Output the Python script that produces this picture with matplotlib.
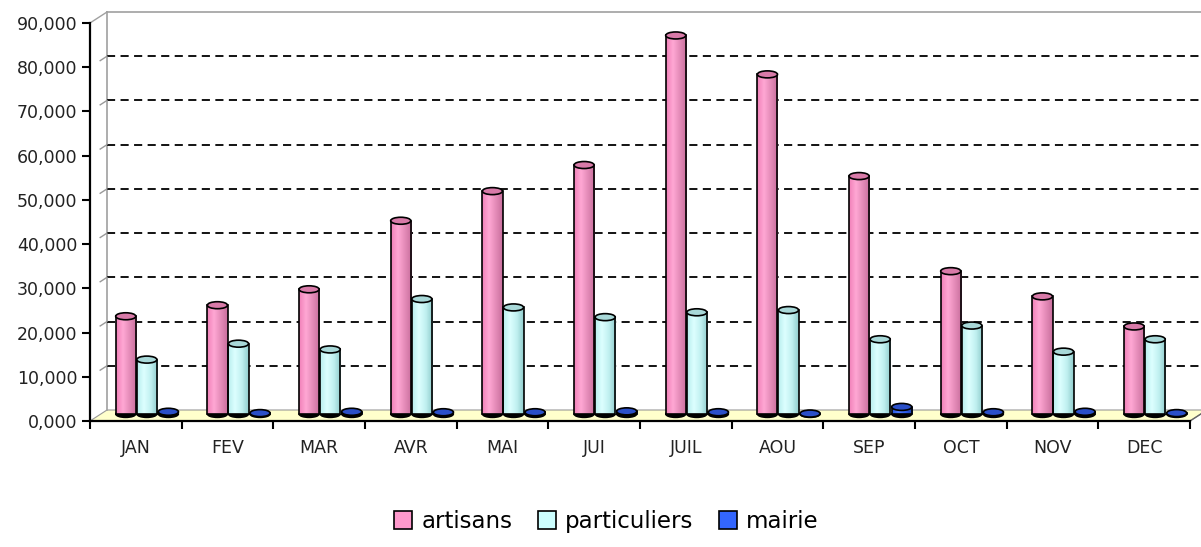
import numpy as np
import matplotlib
matplotlib.use("Agg")
import matplotlib.pyplot as plt
import matplotlib.transforms as mtransforms
from matplotlib.patches import Ellipse, Polygon, Patch
from matplotlib.colors import LinearSegmentedColormap

# data
months = ["JAN", "FEV", "MAR", "AVR", "MAI", "JUI", "JUIL", "AOU", "SEP", "OCT", "NOV", "DEC"]
artisans = [22100, 24600, 28200, 43700, 50400, 56300, 85600, 76800, 53800, 32300, 26600, 19800]
particuliers = [12300, 15900, 14600, 26000, 24100, 21900, 23000, 23500, 16900, 20000, 14100, 16900]
mairie = [500, 200, 500, 400, 400, 600, 400, 100, 1600, 400, 500, 200]
series_names = ["artisans", "particuliers", "mairie"]
y_ticks = [0, 10000, 20000, 30000, 40000, 50000, 60000, 70000, 80000, 90000]
y_labels = ["0,000", "10,000", "20,000", "30,000", "40,000", "50,000",
            "60,000", "70,000", "80,000", "90,000"]

colors = ["#FF99CC", "#CCFFFF", "#3366FF"]
shades = [["#F080B8", "#FFA8D4", "#E48BB8", "#C86E9C"],
          ["#B8EEEE", "#DDFFFF", "#C0F0F0", "#90CCCC"],
          ["#2255DD", "#4D7DFF", "#2A5AE8", "#1A3FAA"]]
tops = ["#D87AA8", "#A8D8D8", "#2A4FC8"]

W, H = 1201, 547
fig = plt.figure(figsize=(W / 100, H / 100), dpi=100)
ax_left, ax_bottom, ax_w, ax_h = 90, 126, 1100, 398
ax = fig.add_axes([ax_left / W, ax_bottom / H, ax_w / W, ax_h / H])
ax.set_xlim(-0.5, len(months) - 0.5)
ax.set_ylim(0, 90000)

# 3D depth of the plot (pixels)
dx_px, dy_px = 17, 11
dxa, dya = dx_px / ax_w, dy_px / ax_h

# floor
floor = Polygon([(0, 0), (1, 0), (1 + dxa, dya), (dxa, dya)], closed=True,
                transform=ax.transAxes, facecolor="#FFFFCC", edgecolor="#999999",
                lw=0.8, clip_on=False, zorder=0.5)
ax.add_patch(floor)

# back wall edges
ax.plot([dxa, dxa], [dya, 1 + dya], color="#A0A0A0", lw=1.2, transform=ax.transAxes, clip_on=False, zorder=0.6)
ax.plot([dxa, 1.05], [1 + dya, 1 + dya], color="#A0A0A0", lw=1.2, transform=ax.transAxes, clip_on=False, zorder=0.6)
ax.plot([0, dxa], [1, 1 + dya], color="#A0A0A0", lw=1.0, transform=ax.transAxes, clip_on=False, zorder=0.6)
ax.plot([1, 1 + dxa], [0, dya], color="#666666", lw=1.0, transform=ax.transAxes, clip_on=False, zorder=0.6)

# gridlines on back wall
back = mtransforms.blended_transform_factory(ax.transAxes, ax.transData) + \
    mtransforms.ScaledTranslation(0, dy_px / 100, fig.dpi_scale_trans)
for t in y_ticks[1:-1]:
    ax.plot([dxa, 1.05], [t, t], color="black", lw=1.3, ls=(0, (4.5, 3)),
            transform=back, clip_on=False, zorder=0.7)
    ax.plot([0.6 * dxa, dxa], [t - 0.4 * dy_px / ax_h * 90000, t], color="#999999", lw=1.0,
            transform=back, clip_on=False, zorder=0.7)

# cylinders, drawn at mid-depth
ell_px = 7
bar_shift = mtransforms.ScaledTranslation(0, ell_px / 100, fig.dpi_scale_trans)
bar_trans = ax.transData + bar_shift
x = np.arange(len(months))
width = 0.22
offsets = [-0.11, 0.12, 0.355]
ell_h = ell_px / ax_h * 90000
grad = np.linspace(0, 1, 64).reshape(1, -1)

for vals, name, off, col, sh, tc in zip([artisans, particuliers, mairie], series_names,
                                        offsets, colors, shades, tops):
    cmap = LinearSegmentedColormap.from_list(name, sh)
    bars = ax.bar(x + off, vals, width=width, facecolor="none", edgecolor="black",
                  lw=1.2, zorder=4)
    for b in bars:
        b.set_transform(bar_trans)
        bx, bw, bh = b.get_x(), b.get_width(), b.get_height()
        im = ax.imshow(grad, extent=[bx, bx + bw, 0, bh], cmap=cmap, aspect="auto",
                       zorder=3, interpolation="bilinear")
        im.set_transform(bar_trans)
        im.set_clip_path(b)
        # bottom and top of cylinder
        ax.add_patch(Ellipse((bx + bw / 2, 0), bw, ell_h, transform=bar_trans,
                             facecolor="black", edgecolor="black", zorder=2.5, clip_on=False))
        ax.add_patch(Ellipse((bx + bw / 2, bh), bw, ell_h, transform=bar_trans,
                             facecolor=tc, edgecolor="black", lw=1.2, zorder=5, clip_on=False))

ax.set_xlim(-0.5, len(months) - 0.5)
ax.set_ylim(0, 90000)

# axes styling
for s in ["top", "right"]:
    ax.spines[s].set_visible(False)
ax.spines["left"].set_linewidth(1.6)
ax.spines["bottom"].set_linewidth(1.6)
ax.spines["left"].set_zorder(6)
ax.spines["bottom"].set_zorder(6)
ax.set_yticks(y_ticks)
ax.set_yticklabels(y_labels, fontsize=12.5, color="#222222")
ax.set_xticks(x)
ax.set_xticklabels(months, fontsize=12.5, color="#222222")
ax.set_xticks(np.arange(len(months) + 1) - 0.5, minor=True)
ax.tick_params(axis="x", which="major", length=0, pad=13)
ax.tick_params(axis="x", which="minor", length=6, width=1.5, direction="out")
ax.tick_params(axis="y", length=6, width=1.5, direction="out", pad=3)
ax.patch.set_alpha(0)

handles = [Patch(facecolor=c, edgecolor="black", lw=1.2) for c in colors]
fig.legend(handles, series_names, loc="lower center", bbox_to_anchor=(0.505, -0.012),
           ncol=3, frameon=False, fontsize=16.5, handlelength=0.8, handleheight=0.8,
           handletextpad=0.4, columnspacing=1.1)

fig.savefig("out.png", dpi=100)
